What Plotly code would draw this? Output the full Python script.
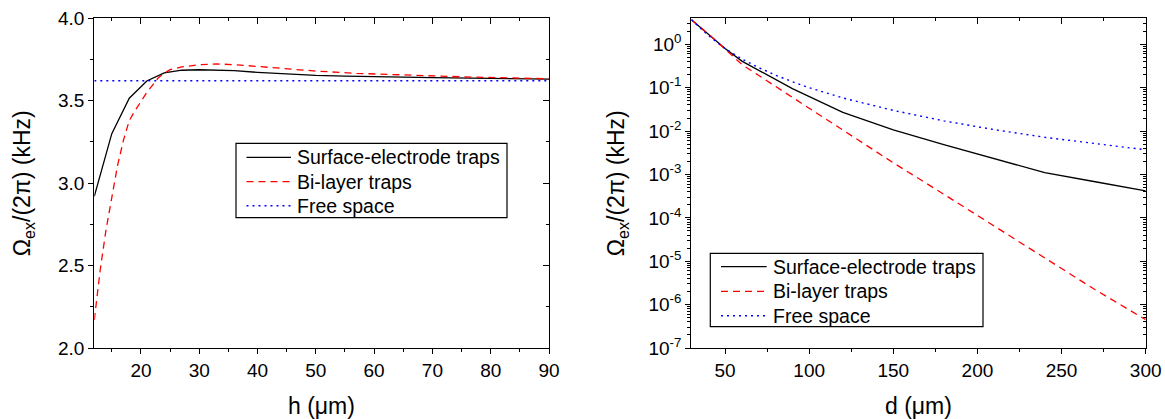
import plotly.graph_objects as go

# ---------------- data: left panel (h in um, Omega_ex/2pi in kHz) ----------------
h_surface = [12, 15, 18, 21, 24, 27, 30, 33, 36, 40, 45, 50, 55, 60, 70, 80, 90]
v_surface = [2.92, 3.30, 3.515, 3.62, 3.669, 3.685, 3.688, 3.687, 3.682, 3.672, 3.662, 3.654, 3.649, 3.645, 3.640, 3.635, 3.631]

h_bilayer = [12, 13, 14, 15, 16, 17, 18, 19, 20, 21, 22, 23, 24, 25, 27, 30, 33, 36, 40, 45, 50, 57, 65, 75, 90]
v_bilayer = [2.17, 2.47, 2.715, 2.917, 3.11, 3.26, 3.38, 3.44, 3.495, 3.55, 3.595, 3.64, 3.668, 3.688, 3.705, 3.718, 3.723, 3.719, 3.708, 3.693, 3.680, 3.666, 3.655, 3.645, 3.633]

h_free = [12, 90]
v_free = [3.621, 3.621]

# ---------------- data: right panel (d in um, Omega_ex/2pi in kHz) ----------------
d_surface = [30, 40, 50, 60, 90, 120, 150, 180, 210, 240, 270, 300]
w_surface = [3.7, 1.75, 0.8, 0.41, 0.095, 0.027, 0.0107, 0.0049, 0.0023, 0.0011, 0.00068, 0.00042]

d_bilayer = [30, 40, 50, 60, 90, 120, 150, 180, 210, 240, 270, 300]
w_bilayer = [3.7, 1.75, 0.78, 0.343, 0.06, 0.0107, 0.00186, 3.5e-4, 6.5e-5, 1.2e-5, 2.2e-6, 4.5e-7]

d_free = [30, 40, 50, 60, 70, 80, 90, 100, 120, 150, 180, 210, 240, 270, 300]
w_free = [3.7, 1.6, 0.8, 0.46, 0.29, 0.195, 0.137, 0.1, 0.058, 0.03, 0.0172, 0.0108, 0.0072, 0.0051, 0.0037]

# tick labels
left_x_ticks = [20, 30, 40, 50, 60, 70, 80, 90]
left_y_ticks = [2.0, 2.5, 3.0, 3.5, 4.0]
left_y_labels = ["2.0", "2.5", "3.0", "3.5", "4.0"]
right_x_ticks = [50, 100, 150, 200, 250, 300]
right_y_ticks = [1e-7, 1e-6, 1e-5, 1e-4, 1e-3, 1e-2, 1e-1, 1e0]
right_y_labels = ["10<sup>-7</sup>", "10<sup>-6</sup>", "10<sup>-5</sup>", "10<sup>-4</sup>",
                  "10<sup>-3</sup>", "10<sup>-2</sup>", "10<sup>-1</sup>", "10<sup>0</sup>"]

names = ["Surface-electrode traps", "Bi-layer traps", "Free space"]

W, H = 1165, 419
FONT = "Liberation Sans, Arial, sans-serif"

def px(x):
    return x / W

def py(y):
    return 1 - y / H

LX = [px(94.3), px(549.0)]
RX = [px(691.4), px(1145.7)]
YD = [py(348.0), py(18.3)]

black = dict(color="black", width=1.3)
red = dict(color="#FF0000", width=1.3, dash="7px,5px")
blue = dict(color="#0000FF", width=1.4, dash="2px,4px")
styles = [black, red, blue]

fig = go.Figure()
for nm, xs, ys, st in zip(names, [h_surface, h_bilayer, h_free], [v_surface, v_bilayer, v_free], styles):
    fig.add_trace(go.Scatter(x=xs, y=ys, mode="lines", line=st, name=nm, xaxis="x", yaxis="y",
                             showlegend=False))
for nm, xs, ys, st in zip(names, [d_surface, d_bilayer, d_free], [w_surface, w_bilayer, w_free], styles):
    fig.add_trace(go.Scatter(x=xs, y=ys, mode="lines", line=st, name=nm, xaxis="x2", yaxis="y2",
                             showlegend=False))

# dummy traces for mirrored (top/right) axes with inward ticks
fig.add_trace(go.Scatter(x=[None], y=[None], xaxis="x3", yaxis="y3", showlegend=False, hoverinfo="skip"))
fig.add_trace(go.Scatter(x=[None], y=[None], xaxis="x4", yaxis="y4", showlegend=False, hoverinfo="skip"))

tickfont = dict(family=FONT, size=19, color="black")
axcommon = dict(showline=True, linecolor="black", linewidth=1.3, showgrid=False, zeroline=False,
                tickcolor="black", tickwidth=1.2, tickfont=tickfont, automargin=False)

fig.update_layout(
    width=W, height=H,
    margin=dict(l=0, r=0, t=0, b=0),
    paper_bgcolor="white", plot_bgcolor="white",
    font=dict(family=FONT, color="black"),
    showlegend=False,
    xaxis=dict(domain=LX, anchor="y", range=[12, 90], tickmode="array", tickvals=left_x_ticks,
               ticks="outside", ticklen=5,
               minor=dict(ticks="outside", ticklen=3, dtick=5, tick0=0, tickcolor="black", tickwidth=1.2),
               **axcommon),
    yaxis=dict(domain=YD, anchor="x", range=[2, 4], tickmode="array", tickvals=left_y_ticks,
               ticktext=left_y_labels, ticks="outside", ticklen=5,
               minor=dict(ticks="outside", ticklen=3, dtick=0.25, tick0=0, tickcolor="black", tickwidth=1.2),
               **axcommon),
    xaxis3=dict(overlaying="x", side="top", anchor="y3", range=[12, 90], tickmode="array",
                tickvals=left_x_ticks, showticklabels=False, ticks="inside", ticklen=6,
                minor=dict(ticks="inside", ticklen=3, dtick=5, tick0=0, tickcolor="black", tickwidth=1.2),
                **axcommon),
    yaxis3=dict(overlaying="y", side="right", anchor="x3", range=[2, 4], tickmode="array",
                tickvals=left_y_ticks, showticklabels=False, ticks="inside", ticklen=6,
                minor=dict(ticks="inside", ticklen=3, dtick=0.25, tick0=0, tickcolor="black", tickwidth=1.2),
                **axcommon),
    xaxis2=dict(domain=RX, anchor="y2", range=[30, 300], tickmode="array", tickvals=right_x_ticks,
                ticks="outside", ticklen=5,
                minor=dict(ticks="outside", ticklen=3, dtick=25, tick0=0, tickcolor="black", tickwidth=1.2),
                **axcommon),
    yaxis2=dict(domain=YD, anchor="x2", type="log", range=[-7, 0.6], tickmode="array",
                tickvals=right_y_ticks, ticktext=right_y_labels, ticks="outside", ticklen=5,
                minor=dict(ticks="outside", ticklen=3, dtick="D1", tickcolor="black", tickwidth=1),
                **axcommon),
    xaxis4=dict(overlaying="x2", side="top", anchor="y4", range=[30, 300], tickmode="array",
                tickvals=right_x_ticks, showticklabels=False, ticks="inside", ticklen=6,
                minor=dict(ticks="inside", ticklen=3, dtick=25, tick0=0, tickcolor="black", tickwidth=1.2),
                **axcommon),
    yaxis4=dict(overlaying="y2", side="right", anchor="x4", type="log", range=[-7, 0.6], tickmode="array",
                tickvals=right_y_ticks, showticklabels=False, ticks="inside", ticklen=6,
                minor=dict(ticks="inside", ticklen=3, dtick="D1", tickcolor="black", tickwidth=1),
                **axcommon),
)

# ---------------- legends (box + line samples + labels) ----------------
leg_font = dict(family=FONT, size=19.5, color="black")

def add_legend(box, line_x0, line_x1, text_x, rows):
    x0, y0, x1, y1 = box
    fig.add_shape(type="rect", xref="paper", yref="paper", x0=px(x0), x1=px(x1), y0=py(y1), y1=py(y0),
                  line=dict(color="black", width=1.2), fillcolor="white", layer="above")
    for nm, st, ry in zip(names, styles, rows):
        fig.add_shape(type="line", xref="paper", yref="paper", x0=px(line_x0), x1=px(line_x1),
                      y0=py(ry), y1=py(ry), line=st, layer="above")
        fig.add_annotation(text=nm, x=px(text_x), y=py(ry), xref="paper", yref="paper",
                           showarrow=False, font=leg_font, xanchor="left", yanchor="middle")

add_legend((236.0, 143.3, 507.0, 217.7), 246.5, 291.0, 295.0, [157.3, 181.7, 205.7])
add_legend((710.3, 253.3, 983.0, 326.7), 721.0, 766.7, 770.5, [266.7, 291.3, 315.7])

# ---------------- axis titles ----------------
title_font = dict(family=FONT, size=23, color="black")
ytitle = "\u03a9<sub>ex</sub>/(2\u03c0) (kHz)"
yc = py((18.3 + 348.0) / 2)
fig.add_annotation(text=ytitle, x=px(23), y=yc, xref="paper", yref="paper", textangle=-90,
                   showarrow=False, font=title_font, xanchor="center", yanchor="middle")
fig.add_annotation(text=ytitle, x=px(617), y=yc, xref="paper", yref="paper", textangle=-90,
                   showarrow=False, font=title_font, xanchor="center", yanchor="middle")
fig.add_annotation(text="h (\u03bcm)", x=px((94.3 + 549.0) / 2), y=py(406), xref="paper", yref="paper",
                   showarrow=False, font=title_font, xanchor="center", yanchor="middle")
fig.add_annotation(text="d (\u03bcm)", x=px((691.4 + 1145.7) / 2), y=py(406), xref="paper", yref="paper",
                   showarrow=False, font=title_font, xanchor="center", yanchor="middle")

fig.write_html("out.html",
               config={"displayModeBar": False},
               post_script="document.body.style.margin='0';document.body.style.padding='0';"
                           "document.body.style.overflow='hidden';")
